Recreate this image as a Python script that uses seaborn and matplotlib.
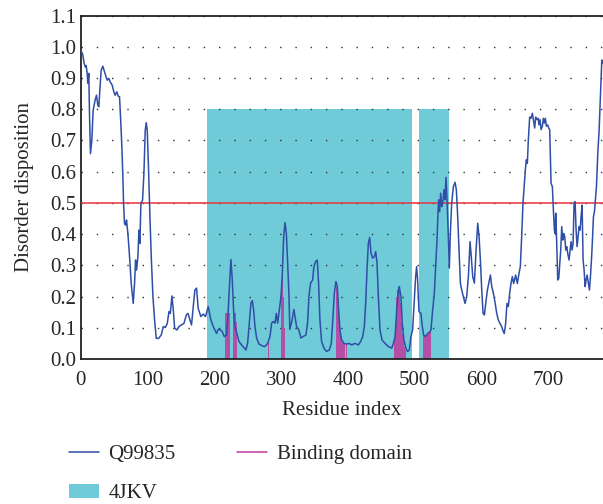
import matplotlib
matplotlib.use("Agg")
import matplotlib.pyplot as plt
import seaborn as sns
import pandas as pd
from matplotlib.lines import Line2D
from matplotlib.patches import Patch

# ---------------- data ----------------
residue = [0, 1, 3, 5, 7, 8, 9.5, 10.5, 12, 13, 14.5, 16.5, 18.5, 21.5, 23.5, 25.5, 27, 28.5,
           30.5, 33, 35.5, 39.5, 42, 44, 47, 49.5, 51.5, 54, 56, 58, 59.5, 61.5, 63, 64,
           65.5, 67, 68.5, 70.5, 73, 75.5, 78.5, 80.5, 82, 83.5, 85.5, 87, 88.5, 90, 92.5,
           94.5, 96.5, 98, 99.5, 101.5, 103.5, 105.5, 108, 110.5, 113, 116.5, 120.5, 123.5,
           126.5, 129.5, 132, 134, 136.5, 138.5, 140.5, 144, 147, 150.5, 154.5, 158, 160.5,
           165.8, 170.8, 173.3, 175.8, 179.8, 183.3, 186.8, 190.8, 194.8, 198.3, 203.3, 205.8,
           209.3, 211.8, 214.8, 218.3, 220.8, 222.8, 224.8, 226.8, 228.8, 230.8, 233.8, 236.8,
           240.8, 244.8, 247.3, 249.8, 252.3, 254.8, 256.8, 258.8, 260.8, 263.3, 266.8, 271.8,
           275.8, 279.8, 283.3, 285.8, 288.3, 290.8, 292.8, 294.8, 297.3, 299.8, 301.8, 303.8,
           305.8, 307.8, 309.8, 311.8, 313, 316, 319.1, 323.1, 326.6, 329.6, 333.1, 337.1,
           339.6, 341.6, 344.1, 347.1, 349.1, 351.6, 354.1, 356.1, 358.1, 360.6, 364.1, 368.1,
           372.1, 375.1, 377.1, 379.6, 382.1, 384.1, 386.1, 388.1, 390.6, 394.1, 398.1, 402.1,
           405.6, 410.6, 415.6, 419.1, 422.1, 424.6, 426.6, 428.6, 430.6, 432.6, 434.6, 437.1,
           439.6, 441.6, 443.6, 445.6, 448.1, 451.1, 455.6, 460.6, 465.6, 468.1, 470.6, 473.1,
           475.6, 477, 479.4, 481.4, 483.9, 486.9, 489.4, 491.9, 494.4, 496.9, 499.4, 501.4,
           502.9, 504.4, 506.4, 509.4, 511.4, 513.4, 516.4, 519.4, 521.9, 524.4, 526.9, 529.4,
           531.4, 533.4, 534.9, 535.9, 537.4, 538.9, 540.4, 541.9, 543.9, 545.4, 546.9, 548.4,
           550.4, 551.9, 553.4, 555.4, 557.9, 560.4, 562.4, 564.4, 566.4, 568.4, 570.4, 572.9,
           575.4, 577.9, 580.4, 582.9, 584.4, 586.9, 589.4, 591.9, 594.4, 596.4, 598.4, 600.4,
           602.4, 604.4, 606.4, 608.9, 611.4, 613.4, 615.4, 617.9, 620.4, 622.8, 625.2, 627.7,
           630.2, 632.7, 634.2, 636.2, 638.2, 640.2, 642.2, 644.2, 646.2, 648.2, 651.2, 653.7,
           656.2, 658.2, 660.2, 662.2, 664.2, 665.7, 667.2, 668.7, 670.2, 672.2, 674.2, 676.2,
           678.2, 679.7, 681.2, 683.2, 684.7, 686.2, 687.7, 689.2, 691.2, 692.7, 694.2, 695.7,
           697.2, 699.2, 700.7, 702.2, 703.2, 704.2, 706.2, 707.7, 709.2, 710.2, 711.2, 712.7,
           714.2, 715.7, 717.2, 718.7, 720.2, 721.7, 723.2, 724.7, 726.2, 727.7, 729.2, 731.2,
           732.7, 734.2, 735.7, 737.2, 738.7, 740.2, 741.7, 743.2, 744.7, 746.2, 747.7, 749.2,
           750.7, 752.2, 753.7, 755.2, 756.7, 758.2, 760.2, 761.7, 763.2, 764.7, 766.2, 767.7,
           769.2, 770.2, 772.2, 774.2, 776.2, 777.7, 779.2, 780.2, 781.2]
disorder = [0.99, 0.985, 0.975, 0.947, 0.935, 0.94, 0.917, 0.883, 0.915, 0.787, 0.658, 0.70,
            0.797, 0.83, 0.845, 0.813, 0.808, 0.861, 0.925, 0.938, 0.92, 0.893, 0.899, 0.888,
            0.877, 0.856, 0.845, 0.856, 0.842, 0.84, 0.776, 0.68, 0.584, 0.498, 0.434, 0.429,
            0.445, 0.402, 0.328, 0.242, 0.178, 0.242, 0.317, 0.285, 0.328, 0.413, 0.37, 0.498,
            0.509, 0.594, 0.733, 0.757, 0.733, 0.605, 0.456, 0.328, 0.2, 0.125, 0.066, 0.066,
            0.077, 0.104, 0.101, 0.114, 0.152, 0.146, 0.202, 0.157, 0.099, 0.093, 0.104, 0.109,
            0.114, 0.141, 0.146, 0.109, 0.221, 0.227, 0.162, 0.136, 0.144, 0.136, 0.168, 0.125,
            0.104, 0.082, 0.095, 0.093, 0.088, 0.072, 0.077, 0.157, 0.242, 0.319, 0.253, 0.157,
            0.104, 0.082, 0.056, 0.045, 0.035, 0.029, 0.05, 0.115, 0.179, 0.187, 0.157, 0.104,
            0.067, 0.048, 0.042, 0.04, 0.05, 0.072, 0.115, 0.12, 0.115, 0.146, 0.115, 0.157,
            0.2, 0.274, 0.392, 0.437, 0.403, 0.306, 0.2, 0.095, 0.12, 0.159, 0.104, 0.093,
            0.067, 0.072, 0.077, 0.115, 0.2, 0.243, 0.253, 0.296, 0.312, 0.317, 0.243, 0.125,
            0.056, 0.035, 0.024, 0.029, 0.05, 0.115, 0.21, 0.248, 0.232, 0.157, 0.093, 0.061,
            0.05, 0.048, 0.05, 0.045, 0.05, 0.045, 0.056, 0.072, 0.104, 0.179, 0.285, 0.371,
            0.389, 0.339, 0.323, 0.328, 0.344, 0.307, 0.2, 0.093, 0.061, 0.05, 0.04, 0.035,
            0.05, 0.072, 0.157, 0.221, 0.232, 0.2, 0.114, 0.061, 0.034, 0.024, 0.029, 0.072,
            0.093, 0.189, 0.264, 0.296, 0.253, 0.152, 0.146, 0.104, 0.077, 0.072, 0.082, 0.085,
            0.093, 0.157, 0.21, 0.296, 0.381, 0.467, 0.51, 0.472, 0.531, 0.488, 0.499, 0.542,
            0.51, 0.582, 0.51, 0.392, 0.291, 0.403, 0.499, 0.552, 0.566, 0.542, 0.456, 0.349,
            0.243, 0.221, 0.2, 0.178, 0.2, 0.264, 0.376, 0.338, 0.264, 0.243, 0.349, 0.435,
            0.392, 0.317, 0.221, 0.146, 0.141, 0.178, 0.221, 0.248, 0.269, 0.232, 0.21, 0.18,
            0.147, 0.125, 0.114, 0.104, 0.088, 0.082, 0.114, 0.178, 0.168, 0.21, 0.242, 0.264,
            0.242, 0.269, 0.242, 0.274, 0.296, 0.392, 0.499, 0.563, 0.606, 0.638, 0.627, 0.702,
            0.775, 0.771, 0.787, 0.761, 0.74, 0.775, 0.767, 0.771, 0.75, 0.767, 0.735, 0.746,
            0.771, 0.756, 0.771, 0.746, 0.75, 0.74, 0.735, 0.649, 0.563, 0.552, 0.477, 0.413,
            0.402, 0.467, 0.371, 0.253, 0.258, 0.306, 0.349, 0.424, 0.381, 0.402, 0.392, 0.349,
            0.36, 0.338, 0.317, 0.349, 0.376, 0.349, 0.371, 0.499, 0.504, 0.413, 0.36, 0.392,
            0.424, 0.413, 0.456, 0.493, 0.317, 0.285, 0.232, 0.253, 0.269, 0.242, 0.221, 0.264,
            0.317, 0.381, 0.456, 0.472, 0.499, 0.552, 0.659, 0.733, 0.82, 0.904, 0.958, 0.947]

binding_residue = [217, 218, 219, 220, 221, 222, 223,
                   229, 230, 231, 232, 233, 234,
                   281, 282,
                   300, 301, 302, 303, 304, 305,
                   383, 384, 385, 386, 387, 388, 389, 390, 391, 392, 393, 395, 398, 400,
                   469, 470, 471, 472, 473, 474, 475, 476, 477, 478, 479, 480, 481, 482, 483, 485, 486,
                   513, 514, 515, 516, 517, 518, 519, 520, 521, 522, 523, 524]
binding_score = [0.146, 0.146, 0.146, 0.146, 0.146, 0.146, 0.146,
                 0.146, 0.146, 0.146, 0.146, 0.12, 0.10,
                 0.05, 0.05,
                 0.20, 0.25, 0.33, 0.25, 0.20, 0.10,
                 0.232, 0.225, 0.19, 0.157, 0.12, 0.093, 0.075, 0.061, 0.055, 0.05, 0.05, 0.05, 0.048, 0.048,
                 0.05, 0.07, 0.10, 0.15, 0.20, 0.22, 0.23, 0.23, 0.22, 0.20, 0.18, 0.12, 0.10, 0.08, 0.06, 0.04, 0.03,
                 0.077, 0.077, 0.075, 0.072, 0.075, 0.08, 0.082, 0.085, 0.085, 0.088, 0.09, 0.093]

pdb_start = [189, 506]
pdb_end = [496, 551]
pdb_height = 0.8
threshold = 0.5

xticks = [0, 100, 200, 300, 400, 500, 600, 700]
yticks = [0.0, 0.1, 0.2, 0.3, 0.4, 0.5, 0.6, 0.7, 0.8, 0.9, 1.0, 1.1]

# ---------------- style ----------------
sns.set_style("white")
plt.rcParams["font.family"] = ["Liberation Serif", "DejaVu Serif"]
plt.rcParams["font.size"] = 15

blue = "#2F4EA6"
cyan = "#6FCBD8"
magenta = "#C2399D"
red = "#E8323C"
FS = 15

fig = plt.figure(figsize=(6.03, 5.04), dpi=100)
ax = fig.add_axes([0.134, 0.2877, 0.866, 0.6813])

# 4JKV coverage
for s, e in zip(pdb_start, pdb_end):
    ax.fill_between([s, e], [0, 0], [pdb_height, pdb_height], color=cyan, lw=0, zorder=1)

# threshold
ax.axhline(threshold, color=red, lw=1.1, zorder=3)

# binding domain
ax.bar(binding_residue, binding_score, width=1.0, color=magenta, alpha=0.85,
       linewidth=0, zorder=2)

# disorder curve
df = pd.DataFrame({"residue": residue, "disorder": disorder})
sns.lineplot(data=df, x="residue", y="disorder", ax=ax, color=blue, lw=1.1,
             zorder=4, estimator=None, sort=False)

ax.set_xlim(0, 782)
ax.set_ylim(0, 1.1)
ax.set_xticks(xticks)
ax.set_xticks(range(50, 800, 100), minor=True)
ax.set_yticks(yticks)
ax.set_yticklabels([f"{v:.1f}" for v in yticks])
ax.tick_params(axis="x", which="both", direction="in", length=7, width=1.2,
               color="#222222", pad=8.5, labelsize=FS)
ax.tick_params(axis="y", length=0, pad=3, labelsize=FS)

ax.set_axisbelow("line")
ax.yaxis.grid(True, color="#333333", linestyle=(0, (1, 10)), linewidth=1.0)
ax.xaxis.grid(False)

for side in ["left", "bottom", "top"]:
    ax.spines[side].set_visible(True)
    ax.spines[side].set_color("#222222")
    ax.spines[side].set_linewidth(1.3)
ax.spines["right"].set_visible(False)

ax.set_xlabel("Residue index", fontsize=FS, labelpad=8)
ax.set_ylabel("Disorder disposition", fontsize=FS, labelpad=12)

handles = [Line2D([0], [0], color=blue, lw=1.1),
           Patch(facecolor=cyan, edgecolor="none"),
           Line2D([0], [0], color=magenta, lw=1.1)]
labels = ["Q99835", "4JKV", "Binding domain"]
fig.legend(handles, labels, ncol=2, loc="upper left", bbox_to_anchor=(0.114, 0.118),
           frameon=False, fontsize=FS, handlelength=1.45, handletextpad=0.45,
           columnspacing=2.95, labelspacing=0.95, borderaxespad=0, borderpad=0)

fig.savefig("out.png", dpi=100)
